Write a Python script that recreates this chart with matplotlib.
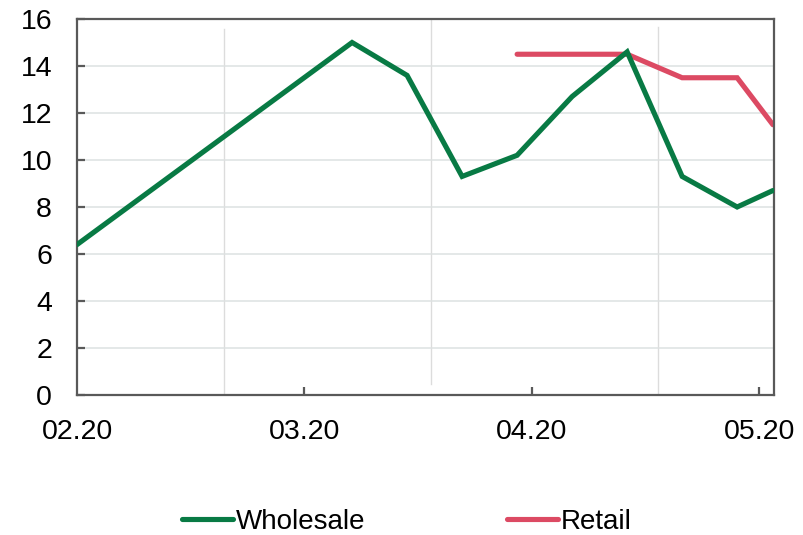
import matplotlib
matplotlib.use("Agg")
from matplotlib import pyplot as plt

plt.rcParams['font.family'] = ['Liberation Sans', 'DejaVu Sans']

GREEN = '#087a44'
RED = '#dc4a63'
SPINE = '#595959'
GRID = '#dde1e1'

# x positions are in weeks from the start of February
wholesale_x = [0, 5, 6, 7, 8, 9, 10, 11, 12, 12.65]
wholesale_y = [6.4, 15.0, 13.6, 9.3, 10.2, 12.7, 14.6, 9.3, 8.0, 8.7]

retail_x = [8, 9, 10, 11, 12, 12.65]
retail_y = [14.5, 14.5, 14.5, 13.5, 13.5, 11.5]

tick_pos = [0, 4.13, 8.27, 12.4]
tick_labels = ['02.20', '03.20', '04.20', '05.20']

# stray vertical rules: (x, ymin, ymax) in axes fraction for y
vrules = [(2.67, 0.0, 0.974), (6.44, 0.03, 1.0), (10.56, 0.0, 0.98)]

fig = plt.figure(figsize=(8.04, 5.35), dpi=100)
ax = fig.add_axes([0.0958, 0.2617, 0.8669, 0.7028])

ax.set_xlim(0, 12.67)
ax.set_ylim(0, 16)
ax.set_yticks(range(0, 17, 2))
ax.set_xticks(tick_pos)
ax.set_xticklabels(tick_labels)

ax.grid(axis='y', color=GRID, linewidth=1.1, zorder=0)
for x, y0, y1 in vrules:
    ax.axvline(x, ymin=y0, ymax=y1, color='#dcdcdc', linewidth=1.0, zorder=0)

ax.plot(wholesale_x, wholesale_y, color=GREEN, linewidth=3.7, label='Wholesale',
        solid_capstyle='round', solid_joinstyle='miter', zorder=3)
ax.plot(retail_x, retail_y, color=RED, linewidth=3.7, label='Retail',
        solid_capstyle='round', solid_joinstyle='miter', zorder=2)

for s in ax.spines.values():
    s.set_color(SPINE)
    s.set_linewidth(1.6)

ax.tick_params(axis='both', direction='in', length=5.5, width=1.6, color=SPINE,
               labelsize=20.5, labelcolor='black')
ax.tick_params(axis='y', pad=18)
ax.tick_params(axis='x', pad=17)
ax.xaxis.get_major_ticks()[0].tick1line.set_visible(False)

fig.legend(loc='center', bbox_to_anchor=(0.5056, 0.025), ncol=2, frameon=False,
           fontsize=20, handlelength=1.84, handletextpad=0.1, columnspacing=5.1,
           borderaxespad=0)

fig.savefig('out.png', dpi=100)
